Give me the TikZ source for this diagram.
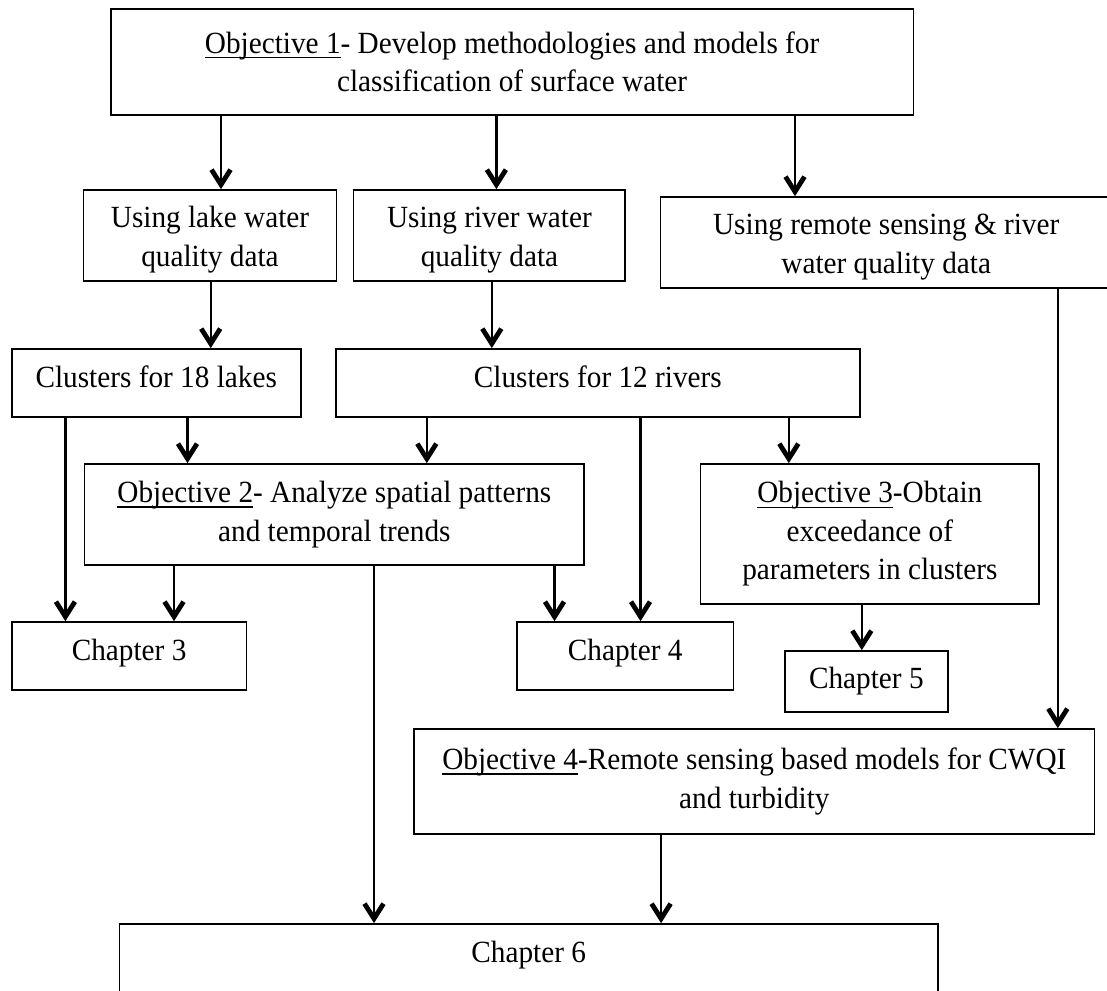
\documentclass[tikz,border=0pt]{standalone}
\usepackage{fontspec}
\setmainfont{Liberation Serif}[FakeStretch=0.95]
\usetikzlibrary{arrows.meta}
\newcommand{\boxfont}{\fontsize{30.8pt}{38.5pt}\selectfont}
\newcommand{\objul}[1]{\setbox0\hbox{#1}\rlap{\rule[-5pt]{\wd0}{1.3pt}}\box0}
\tikzset{
  box/.style={draw, line width=1.7pt, inner sep=0pt, align=center, font=\boxfont},
  onel/.style={text height=20pt, text depth=12pt},
  arr/.style={line width=2.2pt, -{Straight Barb[length=15pt,width=19pt,line width=4.8pt]}},
}
\begin{document}
\begin{tikzpicture}[x=1pt,y=-1pt]
\useasboundingbox (0,0) rectangle (1107,990);
\clip (0,0) rectangle (1107,990);
% boxes
\node[box, minimum width=802.8pt, minimum height=106pt] (obj1) at (512.1,62)
  {\objul{Objective 1}- Develop methodologies and models for\\classification of surface water};
\node[box, minimum width=252.8pt, minimum height=91pt] (lake) at (210,235.5)
  {\rule{0pt}{30pt}Using lake water\\quality data};
\node[box, minimum width=271.7pt, minimum height=91pt] (river) at (489.45,235.5)
  {\rule{0pt}{30pt}Using river water\\quality data};
\node[box, minimum width=451.6pt, minimum height=91pt] (remote) at (886.2,242.5)
  {\rule{0pt}{30pt}Using remote sensing \& river\\water quality data};
\node[box, onel, minimum width=288.9pt, minimum height=68pt] (c18) at (156.25,383)
  {Clusters for 18 lakes};
\node[box, onel, minimum width=523.7pt, minimum height=68pt] (c12) at (597.85,383)
  {Clusters for 12 rivers};
\node[box, minimum width=499.5pt, minimum height=101pt] (obj2) at (334.35,514.5)
  {\objul{Objective 2}- Analyze spatial patterns\\and temporal trends};
\node[box, minimum width=338.4pt, minimum height=140pt] (obj3) at (869.8,534)
  {\objul{Objective 3}-Obtain\\exceedance of\\parameters in clusters};
\node[box, onel, minimum width=234.6pt, minimum height=68pt] (ch3) at (129.1,656)
  {Chapter 3};
\node[box, onel, minimum width=216.7pt, minimum height=68pt] (ch4) at (625.15,656)
  {Chapter 4};
\node[box, minimum width=163.1pt, minimum height=61pt] (ch5) at (866.35,681.5)
  {Chapter 5};
\node[box, minimum width=680.1pt, minimum height=105pt] (obj4) at (754.35,781.5)
  {\objul{Objective 4}-Remote sensing based models for CWQI\\and turbidity};
\node[box, onel, minimum width=818.2pt, minimum height=68pt] (ch6) at (528.7,958)
  {Chapter 6};
% connector x positions
\coordinate (xa) at (221,0);
\coordinate (xb) at (496.4,0);
\coordinate (xc) at (795,0);
\coordinate (xd) at (210.7,0);
\coordinate (xe) at (491.8,0);
\coordinate (xf) at (1057.8,0);
\coordinate (xg) at (187.5,0);
\coordinate (xh) at (65.4,0);
\coordinate (xi) at (426.8,0);
\coordinate (xj) at (640.5,0);
\coordinate (xk) at (788.8,0);
\coordinate (xl) at (174,0);
\coordinate (xm) at (374,0);
\coordinate (xn) at (554.5,0);
\coordinate (xo) at (861.8,0);
\coordinate (xp) at (661.1,0);
% connectors
\draw[arr] (obj1.south -| xa) -- (lake.north -| xa);
\draw[arr] (obj1.south -| xb) -- (river.north -| xb);
\draw[arr] (obj1.south -| xc) -- (remote.north -| xc);
\draw[arr] (lake.south -| xd) -- (c18.north -| xd);
\draw[arr] (river.south -| xe) -- (c12.north -| xe);
\draw[arr] (remote.south -| xf) -- (obj4.north -| xf);
\draw[arr] (c18.south -| xg) -- (obj2.north -| xg);
\draw[arr] (c18.south -| xh) -- (ch3.north -| xh);
\draw[arr] (c12.south -| xi) -- (obj2.north -| xi);
\draw[arr] (c12.south -| xj) -- (ch4.north -| xj);
\draw[arr] (c12.south -| xk) -- (obj3.north -| xk);
\draw[arr] (obj2.south -| xl) -- (ch3.north -| xl);
\draw[arr] (obj2.south -| xm) -- (ch6.north -| xm);
\draw[arr] (obj2.south -| xn) -- (ch4.north -| xn);
\draw[arr] (obj3.south -| xo) -- (ch5.north -| xo);
\draw[arr] (obj4.south -| xp) -- (ch6.north -| xp);
\end{tikzpicture}
\end{document}
